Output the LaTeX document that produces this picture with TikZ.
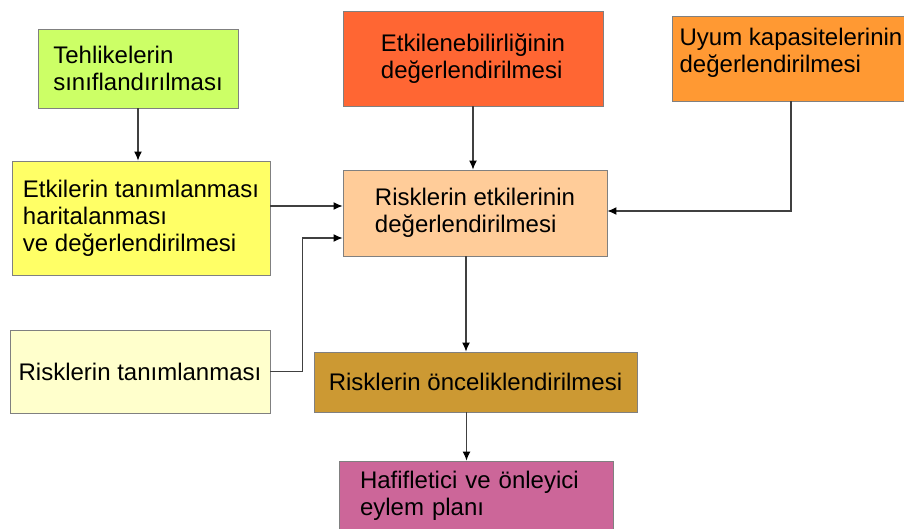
\documentclass[tikz,border=0pt]{standalone}
\usepackage{fontspec}
\setmainfont{Liberation Sans}
\usetikzlibrary{shapes,arrows.meta}
\definecolor{hazardgreen}{HTML}{CCFF66}
\definecolor{vulnred}{HTML}{FF6633}
\definecolor{adaptorange}{HTML}{FF9933}
\definecolor{impactyellow}{HTML}{FFFF66}
\definecolor{riskpeach}{HTML}{FFCC99}
\definecolor{identyellow}{HTML}{FFFFCC}
\definecolor{prioritybrown}{HTML}{CC9933}
\definecolor{planpink}{HTML}{CC6699}

\begin{document}
\begin{tikzpicture}[x=1pt,y=-1pt,
    block_step/.style ={rectangle, draw=black!50, line width=0.9pt,
      align=left, inner sep=0pt,
      font=\fontsize{24}{27}\selectfont},
    line/.style ={draw=black!75, line width=1.1pt,
      -{Latex[length=9pt,width=8pt,color=black]}}]
    \useasboundingbox (0,0) rectangle (904,529);
    % top row
    \node [block_step, fill=hazardgreen, minimum width=200pt, minimum height=79pt]
      (hazards) at (138,68.5) {Tehlikelerin\\sınıflandırılması};
    \node [block_step, fill=vulnred, minimum width=260pt, minimum height=95pt]
      (vulner) at (473,58.5) {Etkilenebilirliğinin\\değerlendirilmesi};
    \node [block_step, fill=adaptorange, minimum width=238pt, minimum height=85pt, text depth=16pt]
      (adapt) at (791,58.5) {Uyum kapasitelerinin\\değerlendirilmesi};
    % middle row
    \node [block_step, fill=impactyellow, minimum width=258pt, minimum height=114pt]
      (impacts) at (141,218) {Etkilerin tanımlanması\\haritalanması\\ve değerlendirilmesi};
    \node [block_step, fill=riskpeach, minimum width=264pt, minimum height=86pt]
      (riskeval) at (475,213) {Risklerin etkilerinin\\değerlendirilmesi};
    % lower rows
    \node [block_step, fill=identyellow, minimum width=260pt, minimum height=83pt]
      (riskident) at (140,371.5) {Risklerin tanımlanması};
    \node [block_step, fill=prioritybrown, minimum width=323pt, minimum height=60pt]
      (priority) at (475.5,382) {Risklerin önceliklendirilmesi};
    \node [block_step, fill=planpink, text width=232pt, inner xsep=21pt, minimum height=70pt]
      (plan) at (476,496) {Hafifletici ve önleyici\\eylem planı};
    % entry points on the risk box
    \coordinate (risk_in1) at ([yshift=7pt]riskeval.west);
    \coordinate (risk_in2) at ([yshift=-25pt]riskeval.west);
    \coordinate (risk_in3) at ([yshift=2pt]riskeval.east);
    \coordinate (risk_out) at ([xshift=-9pt]riskeval.south);
    \coordinate (prio_out) at ([xshift=-9pt]priority.south);
    % connecting nodes with paths
    \begin{scope}[every path/.style=line]
     \path (hazards.south) -- (hazards.south |- impacts.north);
     \path (vulner.south) -- (vulner.south |- riskeval.north);
     \path (adapt.south) |- (risk_in3);
     \path (impacts.east |- risk_in1) -- (risk_in1);
     \path (riskident.east) -- ++(32,0) |- (risk_in2);
     \path (risk_out) -- (risk_out |- priority.north);
     \path (prio_out) -- (prio_out |- plan.north);
    \end{scope}
\end{tikzpicture}
\end{document}
